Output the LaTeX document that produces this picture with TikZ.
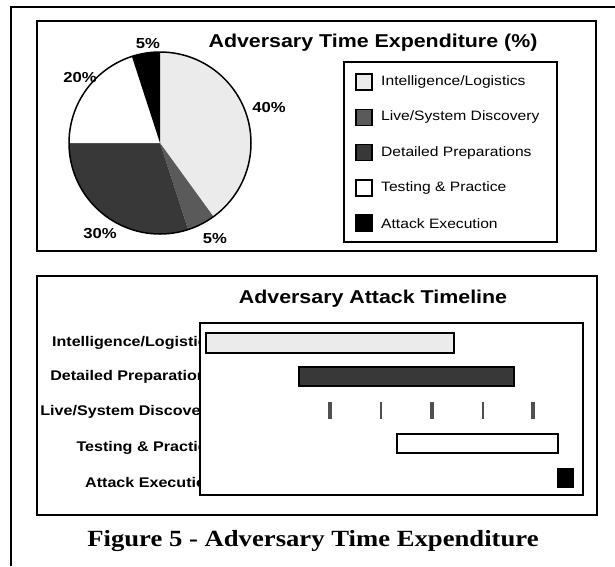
\documentclass[tikz,border=0pt]{standalone}
\usepackage{fontspec}
\setmainfont{Liberation Sans}[FakeStretch=1.15]
\newfontfamily\capfont{Liberation Serif}[FakeStretch=1.15]
\definecolor{intelgray}{HTML}{EBEBEB}
\definecolor{livegray}{HTML}{5A5A5A}
\definecolor{prepgray}{HTML}{383838}
\definecolor{tickgray}{HTML}{505050}
\tikzset{
  panel/.style={draw, line width=2pt},
  pctlabel/.style={font=\fontsize{14.5}{16}\selectfont\bfseries},
  legtext/.style={anchor=west, inner sep=0pt, font=\fontsize{13.6}{15}\selectfont},
  rowlabel/.style={anchor=east, inner sep=0pt, font=\fontsize{14}{16}\selectfont\bfseries},
  bar/.style={draw, line width=2pt}
}
\begin{document}
\begin{tikzpicture}[x=1pt, y=-1pt]
    \useasboundingbox (0,0) rectangle (615,566);

    % Outer frame
    \draw[line width=2.5pt] (11,566) -- (11,7) -- (615,7);

    % Pie chart panel
    \draw[panel] (37,21) rectangle (596,251);
    \node[font=\fontsize{18.6}{21}\selectfont\bfseries] (pietitle) at (373,43) {Adversary Time Expenditure (\%)};

    \coordinate (pie) at (160,143);
    \foreach \a/\b/\c in {-90/54/intelgray, 54/72/livegray, 72/180/prepgray, 180/252/white, 252/270/black}
        \fill[\c] (pie) -- ++(\a:91) arc[start angle=\a, end angle=\b, radius=91] -- cycle;
    \draw[line width=1.5pt] (pie) circle[radius=91];

    \node[pctlabel] (p1) at (269,108) {40\%};
    \node[pctlabel] (p2) at (215,239) {5\%};
    \node[pctlabel] (p3) at (100,234) {30\%};
    \node[pctlabel] (p4) at (80,78) {20\%};
    \node[pctlabel] (p5) at (148,44) {5\%};

    % Legend
    \draw[panel] (344,62) rectangle (557,242);
    \foreach \c/\t [count=\i from 0] in {intelgray/{Intelligence/Logistics}, livegray/{Live/System Discovery}, prepgray/{Detailed Preparations}, white/{Testing \& Practice}, black/{Attack Execution}}
    {
        \draw[line width=1.5pt, fill=\c] (356,{74+35.3*\i}) rectangle (372,{90+35.3*\i});
        \node[legtext] (leg\i) at (381,{82+35.3*\i}) {\t};
    }

    % Timeline panel
    \draw[panel] (37,276) rectangle (597,515);
    \node[font=\fontsize{18.6}{21}\selectfont\bfseries] (timetitle) at (373,299) {Adversary Attack Timeline};

    \node[rowlabel] (r1) at (216,343) {Intelligence/Logistics};
    \node[rowlabel] (r2) at (216,377) {Detailed Preparations};
    \node[rowlabel] (r3) at (216,412) {Live/System Discovery};
    \node[rowlabel] (r4) at (216,448) {Testing \& Practice};
    \node[rowlabel] (r5) at (216,482) {Attack Execution};

    % chart area covers the label ends
    \draw[panel, fill=white] (200,323) rectangle (583,495);

    \draw[bar, fill=intelgray] (206,333) rectangle (454,353);
    \draw[bar, fill=prepgray] (299,367) rectangle (514,386);
    \foreach \x/\w in {330/4, 381/2, 432/4, 483/2, 533/4}
        \draw[tickgray, line width=\w pt] (\x,402) -- (\x,419);
    \draw[bar, fill=white] (397,434) rectangle (558,453);
    \fill[black] (557,468) rectangle (574,488);

    % Caption
    \node[font=\capfont\fontsize{23.2}{27}\selectfont\bfseries] (caption) at (313,541) {Figure 5 - Adversary Time Expenditure};
\end{tikzpicture}
\end{document}
